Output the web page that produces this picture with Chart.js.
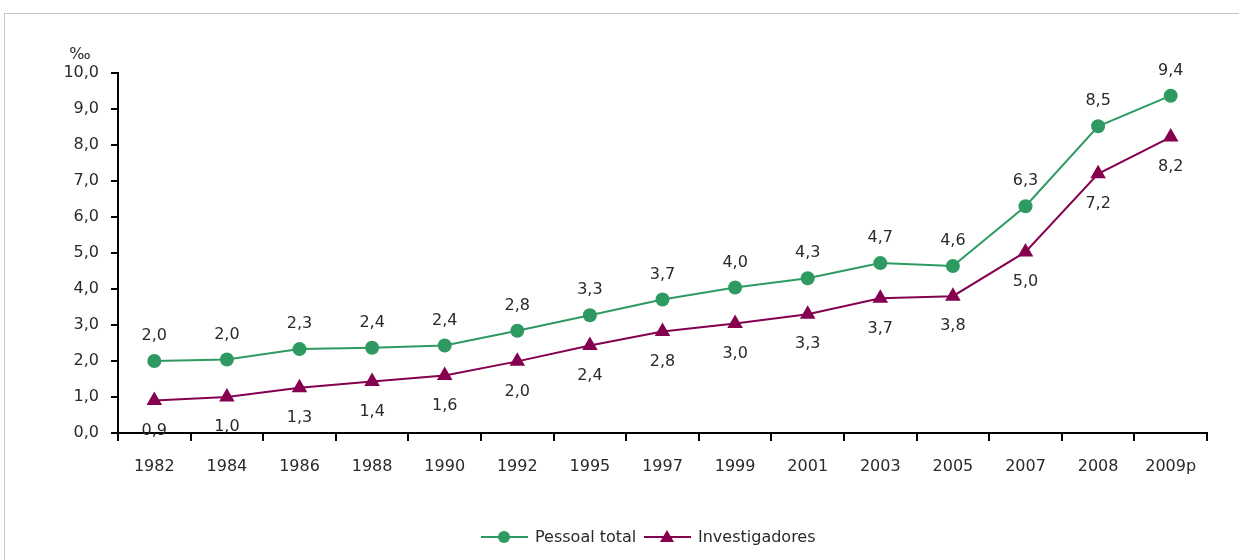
<!DOCTYPE html>
<html>
<head>
<meta charset="utf-8">
<script src="https://cdn.jsdelivr.net/npm/chart.js@4"></script>
<style>
  body { margin: 0; background: #fff; }
  #wrap { position: relative; width: 1239px; height: 560px; overflow: hidden; }
  #frame { position: absolute; left: 4px; top: 13px; width: 1260px; height: 600px; border: 1px solid #c6c6c6; }
  canvas { position: absolute; left: 0; top: 0; }
</style>
</head>
<body>
<div id="wrap">
  <div id="frame"></div>
  <canvas id="chart-1" width="1239" height="560"></canvas>
</div>
<script>
const years = ['1982', '1984', '1986', '1988', '1990', '1992', '1995', '1997', '1999', '2001', '2003', '2005', '2007', '2008', '2009p'];
const pessoalTotal = [2.0, 2.04, 2.33, 2.37, 2.43, 2.84, 3.27, 3.71, 4.04, 4.3, 4.72, 4.64, 6.3, 8.52, 9.37];
const investigadores = [0.9, 1.0, 1.26, 1.43, 1.6, 1.99, 2.43, 2.82, 3.04, 3.3, 3.74, 3.8, 5.03, 7.2, 8.22];

const green = '#2e9a62';
const purple = '#85004f';
const fontFamily = '"DejaVu Sans", sans-serif';
const textColor = '#2a2a2a';

function fmt(v) {
  return v.toFixed(1).replace('.', ',');
}

// value labels: above for Pessoal total, below for Investigadores
const valueLabels = {
  id: 'valueLabels',
  afterDatasetsDraw(chart) {
    const ctx = chart.ctx;
    ctx.save();
    ctx.font = '16px ' + fontFamily;
    ctx.fillStyle = textColor;
    ctx.textAlign = 'center';
    ctx.textBaseline = 'middle';
    chart.data.datasets.forEach((ds, i) => {
      chart.getDatasetMeta(i).data.forEach((pt, j) => {
        const dy = i === 0 ? -25 : 30;
        ctx.fillText(fmt(ds.data[j]), pt.x, pt.y + dy);
      });
    });
    // unit above the y axis
    ctx.fillText('‰', 80, 55);
    ctx.restore();
  }
};

// legend with line + marker, like the original
const lineLegend = {
  id: 'lineLegend',
  afterDraw(chart) {
    const ctx = chart.ctx;
    const y = 537;
    const items = [
      { x: 481, text: 'Pessoal total', color: green, shape: 'circle' },
      { x: 644, text: 'Investigadores', color: purple, shape: 'triangle' }
    ];
    ctx.save();
    ctx.font = '16px ' + fontFamily;
    ctx.textBaseline = 'middle';
    items.forEach(it => {
      ctx.strokeStyle = it.color;
      ctx.fillStyle = it.color;
      ctx.lineWidth = 2;
      ctx.beginPath();
      ctx.moveTo(it.x, y);
      ctx.lineTo(it.x + 47, y);
      ctx.stroke();
      const cx = it.x + 23;
      ctx.beginPath();
      if (it.shape === 'circle') {
        ctx.arc(cx, y, 6, 0, Math.PI * 2);
      } else {
        ctx.moveTo(cx, y - 7);
        ctx.lineTo(cx + 7, y + 5);
        ctx.lineTo(cx - 7, y + 5);
        ctx.closePath();
      }
      ctx.fill();
      ctx.fillStyle = textColor;
      ctx.fillText(it.text, it.x + 54, y + 1);
    });
    ctx.restore();
  }
};

const canvas = document.getElementById('chart-1');

const chart1 = new Chart(canvas, {
  type: 'line',
  data: {
    labels: years,
    datasets: [{
      label: 'Pessoal total',
      data: pessoalTotal,
      borderColor: green,
      backgroundColor: green,
      borderWidth: 2,
      pointStyle: 'circle',
      pointRadius: 7,
      pointBorderWidth: 0,
      tension: 0
    }, {
      label: 'Investigadores',
      data: investigadores,
      borderColor: purple,
      backgroundColor: purple,
      borderWidth: 2,
      pointStyle: 'triangle',
      pointRadius: 9,
      pointBorderWidth: 0,
      tension: 0
    }]
  },
  options: {
    responsive: false,
    animation: false,
    layout: {
      padding: { left: 0, top: 73, right: 32, bottom: 0 }
    },
    plugins: {
      legend: { display: false },
      tooltip: { enabled: false }
    },
    scales: {
      x: {
        offset: true,
        afterFit(scale) { scale.height = 127; },
        border: { display: true, color: '#000', width: 2 },
        grid: {
          offset: true,
          drawOnChartArea: false,
          drawTicks: true,
          tickLength: 8,
          color: '#000',
          lineWidth: 2
        },
        ticks: {
          color: textColor,
          padding: 16,
          font: { family: fontFamily, size: 16 }
        }
      },
      y: {
        min: 0,
        max: 10,
        afterFit(scale) { scale.width = 118; },
        border: { display: true, color: '#000', width: 2 },
        grid: {
          drawOnChartArea: false,
          drawTicks: true,
          tickLength: 7,
          color: '#000',
          lineWidth: 2
        },
        ticks: {
          stepSize: 1,
          color: textColor,
          padding: 12,
          font: { family: fontFamily, size: 16 },
          callback: v => fmt(v)
        }
      }
    }
  },
  plugins: [valueLabels, lineLegend]
});
</script>
</body>
</html>
